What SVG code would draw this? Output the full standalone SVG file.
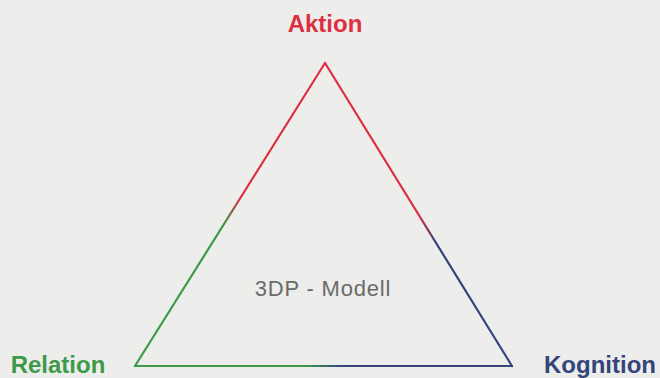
<svg xmlns="http://www.w3.org/2000/svg" width="660" height="378" viewBox="0 0 660 378">
<style>
.lbl{font-family:"Liberation Sans",Arial,sans-serif;font-weight:bold;font-size:24px;text-anchor:middle}
.edge{fill:none;stroke-width:2.2;stroke-linecap:round}
</style>
<defs>
<linearGradient id="gL" gradientUnits="userSpaceOnUse" x1="325" y1="63" x2="135" y2="366">
<stop offset="0" stop-color="#dc3040"/><stop offset="0.44" stop-color="#dc3040"/><stop offset="0.54" stop-color="#3d9a47"/><stop offset="1" stop-color="#3d9a47"/>
</linearGradient>
<linearGradient id="gR" gradientUnits="userSpaceOnUse" x1="325" y1="63" x2="512" y2="366">
<stop offset="0" stop-color="#dc3040"/><stop offset="0.5" stop-color="#dc3040"/><stop offset="0.6" stop-color="#33457a"/><stop offset="1" stop-color="#33457a"/>
</linearGradient>
<linearGradient id="gB" gradientUnits="userSpaceOnUse" x1="135" y1="366" x2="512" y2="366">
<stop offset="0" stop-color="#3d9a47"/><stop offset="0.45" stop-color="#3d9a47"/><stop offset="0.55" stop-color="#33457a"/><stop offset="1" stop-color="#33457a"/>
</linearGradient>
</defs>
<rect width="660" height="378" fill="#ededec"/>
<g id="connectors">
<line class="edge" x1="325" y1="63" x2="135" y2="366" stroke="url(#gL)"/>
<line class="edge" x1="325" y1="63" x2="512" y2="366" stroke="url(#gR)"/>
<line class="edge" x1="135" y1="366" x2="512" y2="366" stroke="url(#gB)"/>
</g>
<g id="aktion"><text class="lbl" x="325" y="32" fill="#dc3040">Aktion</text></g>
<g id="relation"><text class="lbl" x="58" y="373" fill="#3d9a47">Relation</text></g>
<g id="kognition"><text class="lbl" x="600" y="373" fill="#33457a">Kognition</text></g>
<g id="modell"><text x="323" y="296" font-family="Liberation Sans,Arial,sans-serif" font-size="22" letter-spacing="0.8" fill="#6a6a6a" text-anchor="middle">3DP - Modell</text></g>
</svg>
